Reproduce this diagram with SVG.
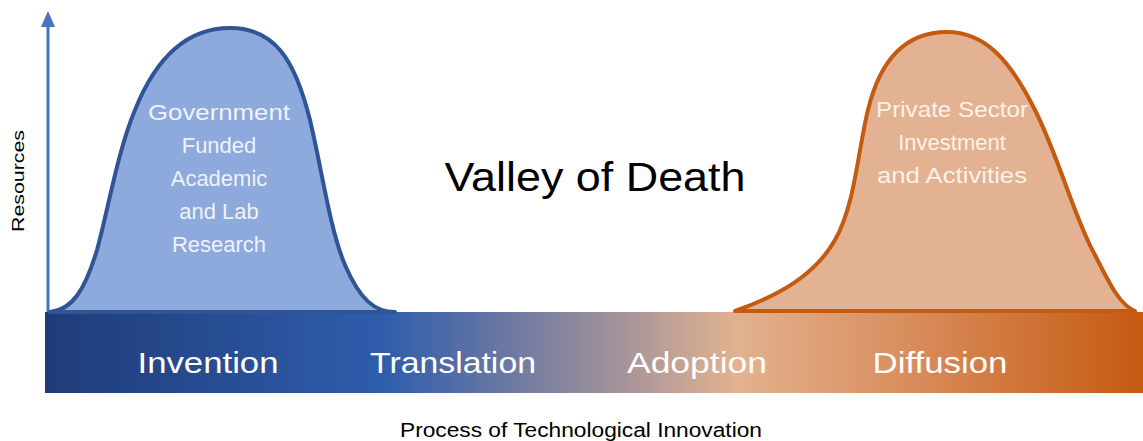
<svg xmlns="http://www.w3.org/2000/svg" width="1143" height="441" viewBox="0 0 1143 441">
  <defs>
    <linearGradient id="barGrad" x1="45" y1="0" x2="1143" y2="0" gradientUnits="userSpaceOnUse">
      <stop offset="0" stop-color="#1F3C78"/>
      <stop offset="0.31" stop-color="#2F5DAC"/>
      <stop offset="0.5" stop-color="#978C9C"/>
      <stop offset="0.63" stop-color="#E2B290"/>
      <stop offset="0.8" stop-color="#D88A58"/>
      <stop offset="1" stop-color="#C55A11"/>
    </linearGradient>
    <style>
      .lbl { font-family: "Liberation Sans", Arial, sans-serif; }
      .bar-text { font-size: 30px; fill: #FFFFFF; text-anchor: middle; }
      .curve-text-blue { font-size: 22px; fill: #EEF2FA; text-anchor: middle; }
      .curve-text-orange { font-size: 22px; fill: #FBF1E8; text-anchor: middle; }
    </style>
  </defs>

  <g id="axis">
    <line x1="48" y1="313" x2="48" y2="24" stroke="#4472C4" stroke-width="3"/>
    <polygon points="41,27 48,11 55,27" fill="#4472C4"/>
    <text class="lbl" x="0" y="0" font-size="17" fill="#000" text-anchor="middle" transform="translate(24,181) rotate(-90)" textLength="102" lengthAdjust="spacingAndGlyphs">Resources</text>
  </g>

  <g id="process-bar">
    <rect x="45" y="312" width="1098" height="81" fill="url(#barGrad)"/>
    <text class="lbl bar-text" x="208" y="373" textLength="141" lengthAdjust="spacingAndGlyphs">Invention</text>
    <text class="lbl bar-text" x="453" y="373" textLength="166" lengthAdjust="spacingAndGlyphs">Translation</text>
    <text class="lbl bar-text" x="697" y="373" textLength="140" lengthAdjust="spacingAndGlyphs">Adoption</text>
    <text class="lbl bar-text" x="940" y="373" textLength="135" lengthAdjust="spacingAndGlyphs">Diffusion</text>
  </g>

  <g id="government-curve">
    <path d="M50,312 C72,310 85,290 97,250 C108,210 118,150 135,110 C155,60 185,28 230,28 C275,28 295,60 310,120 C322,170 330,230 345,265 C360,300 375,312 395,312 Z" fill="#8EA9DB" stroke="#2F5597" stroke-width="4" stroke-linejoin="round"/>
    <text class="lbl curve-text-blue" x="219" y="120" textLength="142" lengthAdjust="spacingAndGlyphs">Government</text>
    <text class="lbl curve-text-blue" x="219" y="153">Funded</text>
    <text class="lbl curve-text-blue" x="219" y="186">Academic</text>
    <text class="lbl curve-text-blue" x="219" y="219">and Lab</text>
    <text class="lbl curve-text-blue" x="219" y="252">Research</text>
  </g>

  <g id="private-curve">
    <path d="M735,311 C780,295 815,275 835,240 C855,205 858,150 868,110 C880,60 905,32 947,32 C985,32 1010,60 1035,110 C1060,160 1075,220 1095,255 C1110,285 1120,305 1135,311 Z" fill="#E3B292" stroke="#C55A11" stroke-width="4" stroke-linejoin="round"/>
    <text class="lbl curve-text-orange" x="952" y="117" textLength="152" lengthAdjust="spacingAndGlyphs">Private Sector</text>
    <text class="lbl curve-text-orange" x="952" y="150">Investment</text>
    <text class="lbl curve-text-orange" x="952" y="183" textLength="150" lengthAdjust="spacingAndGlyphs">and Activities</text>
  </g>

  <g id="valley-label">
    <text class="lbl" x="595" y="191" font-size="40" fill="#000" text-anchor="middle" textLength="301" lengthAdjust="spacingAndGlyphs">Valley of Death</text>
  </g>

  <g id="x-axis-label">
    <text class="lbl" x="581" y="437" font-size="20" fill="#000" text-anchor="middle" textLength="362" lengthAdjust="spacingAndGlyphs">Process of Technological Innovation</text>
  </g>
</svg>
